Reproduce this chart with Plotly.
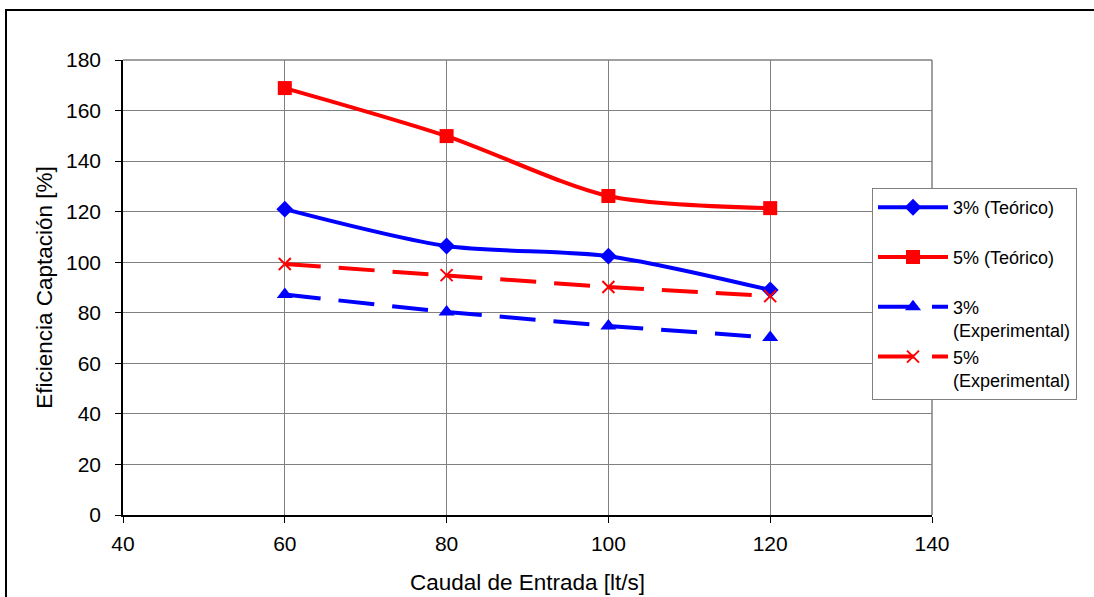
import plotly.graph_objects as go

caudal = [60, 80, 100, 120]
teo_3 = [121.0, 106.4, 102.4, 89.0]
teo_5 = [168.9, 149.9, 126.2, 121.4]
exp_3 = [87.2, 80.3, 74.8, 70.2]
exp_5 = [99.3, 94.9, 90.2, 86.6]

names = ["3% (Teórico)<br> ", "5% (Teórico)<br> ", "3%<br>(Experimental)", "5%<br>(Experimental)"]

BLUE = "#0000FF"
RED = "#FF0000"

W, H = 1094, 597
L, R, T, B = 123, 932, 60, 515

fig = go.Figure()
fig.add_trace(go.Scatter(
    x=caudal, y=teo_3, name=names[0], mode="lines+markers",
    line=dict(color=BLUE, width=4, shape="spline", smoothing=0.8),
    marker=dict(symbol="diamond", size=13, color=BLUE)))
fig.add_trace(go.Scatter(
    x=caudal, y=teo_5, name=names[1], mode="lines+markers",
    line=dict(color=RED, width=4, shape="spline", smoothing=0.8),
    marker=dict(symbol="square", size=14, color=RED)))
fig.add_trace(go.Scatter(
    x=caudal, y=exp_3, name=names[2], mode="lines+markers",
    line=dict(color=BLUE, width=4, dash="36px,18px"),
    marker=dict(symbol="triangle-up", size=14, color=BLUE)))
fig.add_trace(go.Scatter(
    x=caudal, y=exp_5, name=names[3], mode="lines+markers",
    line=dict(color=RED, width=4, dash="36px,18px"),
    marker=dict(symbol="x-thin-open", size=12, color=RED, line=dict(color=RED, width=2))))

def px_x(p):
    return (p - L) / (R - L)

def px_y(p):
    return (B - p) / (B - T)

fig.update_layout(
    width=W, height=H,
    margin=dict(l=L, r=W - R, t=T, b=H - B, autoexpand=False),
    paper_bgcolor="white", plot_bgcolor="white",
    font=dict(family="Liberation Sans, Arial, sans-serif", color="black", size=21),
    xaxis=dict(
        range=[40, 140], dtick=20, tick0=40,
        showgrid=True, gridcolor="#808080", gridwidth=1,
        showline=True, linecolor="black", linewidth=1.5,
        ticks="outside", ticklen=6, tickcolor="black",
        tickfont=dict(size=21), ticklabelstandoff=3,
        title=dict(text="Caudal de Entrada [lt/s]", font=dict(size=22.5), standoff=20),
        zeroline=False,
    ),
    yaxis=dict(
        range=[0, 180], dtick=20, tick0=0,
        showgrid=True, gridcolor="#808080", gridwidth=1,
        showline=True, linecolor="black", linewidth=1.5,
        ticks="outside", ticklen=6, tickcolor="black",
        tickfont=dict(size=21), ticklabelstandoff=10,
        title=dict(text="Eficiencia Captación [%]", font=dict(size=22.5), standoff=7),
        zeroline=False,
    ),
    legend=dict(
        x=px_x(872), y=px_y(188), xanchor="left", yanchor="top",
        bgcolor="white", bordercolor="#808080", borderwidth=1,
        font=dict(size=18), tracegroupgap=0, valign="top", itemwidth=70,
    ),
    shapes=[
        dict(type="line", xref="paper", yref="paper", x0=0, x1=1, y0=1, y1=1,
             line=dict(color="#808080", width=1.5), layer="below"),
        dict(type="line", xref="paper", yref="paper", x0=1, x1=1, y0=0, y1=1,
             line=dict(color="#808080", width=1.5), layer="below"),
        dict(type="rect", xref="paper", yref="paper",
             x0=px_x(6), x1=px_x(1300), y0=px_y(700), y1=px_y(10),
             line=dict(color="black", width=2)),
    ],
)

fig.write_html("out.html", config={"displayModeBar": False},
               post_script="document.body.style.margin='0';")
